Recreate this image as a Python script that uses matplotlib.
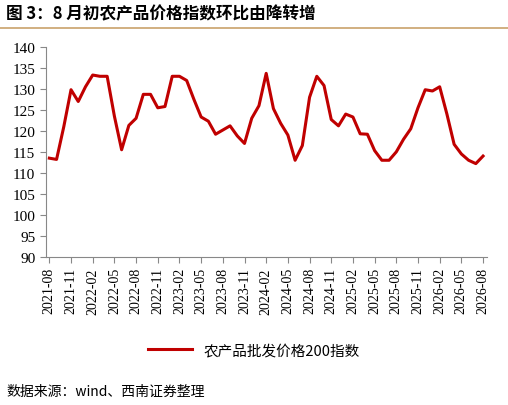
import matplotlib
matplotlib.use("Agg")
import matplotlib.pyplot as plt
import pandas as pd

plt.rcParams['font.family'] = ['Noto Sans CJK SC', 'DejaVu Sans']

values = [113.5,113.2,121,129.8,127,130.5,133.3,133,133,123.5,115.5,121.3,123,128.7,128.7,
          125.5,125.8,133,133,132,127.5,123.3,122.3,119.2,120.2,121.2,118.8,117,123,126,
          133.7,125.3,121.8,119,113,116.5,128,133,130.8,122.7,121.2,124,123.3,119.3,119.2,
          115.3,113,113,115,118,120.5,125.5,129.8,129.5,130.5,124,116.8,114.5,113,112.2,114]
months = pd.period_range('2021-08', periods=len(values), freq='M').strftime('%Y-%m').tolist()
series_name = '农产品批发价格200指数'

fig = plt.figure(figsize=(5.08, 4.06), dpi=100)
ax = fig.add_axes([0.09, 0.365, 0.868, 0.517])
x = list(range(len(values)))
ax.plot(x, values, color='#C00000', lw=2.2, label=series_name)
ax.set_ylim(90, 140)
ax.set_yticks(range(90, 141, 5))
ax.set_xlim(-0.5, len(values) - 0.5)
ax.set_xticks(x[::3])
ax.set_xticklabels(months[::3], rotation=90, fontsize=10, family=['Liberation Serif'])
for lab in ax.get_yticklabels():
    lab.set_fontsize(11); lab.set_family(['Liberation Serif'])
for s in ['top', 'right']:
    ax.spines[s].set_visible(False)
ax.spines['left'].set_color('#888888')
ax.spines['bottom'].set_color('#888888')
ax.tick_params(axis='both', direction='out', color='#888888', length=4)

fig.legend(loc='center', bbox_to_anchor=(0.5, 0.135), frameon=False, fontsize=10.5,
           handlelength=3)
fig.text(0.012, 0.965, '图 3：8 月初农产品价格指数环比由降转增', fontsize=12, fontweight='bold', va='center')
fig.add_artist(plt.Line2D([0.0, 1.0], [0.928, 0.928], color='#C9A26B', lw=1.2))
fig.text(0.012, 0.035, '数据来源：wind、西南证券整理', fontsize=10, style='italic', va='center')
fig.savefig('out.png', dpi=100)
